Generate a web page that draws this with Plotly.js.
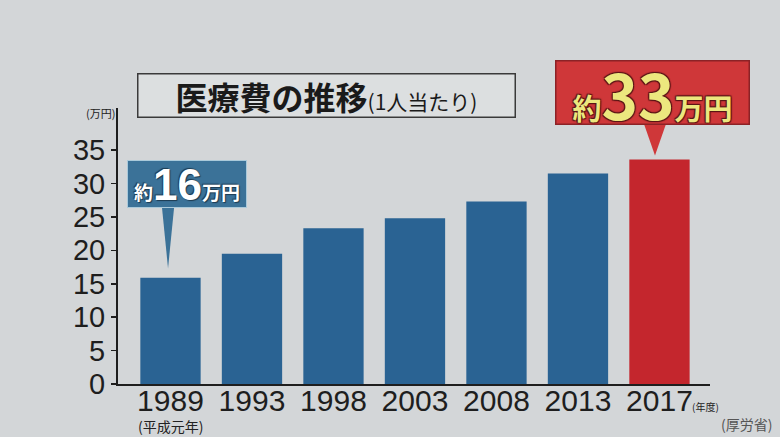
<!DOCTYPE html>
<html><head><meta charset="utf-8">
<script src="https://cdn.plot.ly/plotly-3.0.1.min.js"></script>
<style>html,body{margin:0;padding:0;background:#d3d6d8;}#chart{width:780px;height:437px;}</style>
</head><body><div id="chart"></div>
<script>
const years = ['1989','1993','1998','2003','2008','2013','2017'];
const costs = [15.9, 19.5, 23.3, 24.8, 27.3, 31.5, 33.6];
const barColors = ['#2a6393','#2a6393','#2a6393','#2a6393','#2a6393','#2a6393','#c4262d'];
const yTicks = [0,5,10,15,20,25,30,35];

const JP = 'Noto Sans CJK JP';
const NUM = 'Liberation Sans, Arial, sans-serif';

const first = 0, last = years.length - 1;

const trace = {
  type: 'bar', x: years, y: costs,
  marker: {color: barColors, line: {width: 0}},
  width: 0.74, hoverinfo: 'skip'
};

// callout pointer wedges tied to the data points (category index units on x)
function wedge(i, tipDx, tipGap, baseY, halfW, color) {
  const tipX = i + tipDx, tipY = costs[i] + tipGap;
  return {type: 'path', xref: 'x', yref: 'y', layer: 'above',
    path: `M ${tipX - halfW} ${baseY} L ${tipX + halfW} ${baseY} L ${tipX} ${tipY} Z`,
    fillcolor: color, line: {width: 0}};
}
const blueBoxBottom = costs[first] + 10.4;
const redBoxBottom = costs[last] + 5.1;

const layout = {
  width: 780, height: 437,
  margin: {l: 118, r: 70, t: 108, b: 53},
  paper_bgcolor: '#d3d6d8', plot_bgcolor: '#d3d6d8',
  showlegend: false,
  bargap: 0.26,
  xaxis: {
    type: 'category', range: [-0.644, 6.62],
    showline: true, linecolor: '#1e1e1e', linewidth: 2,
    ticks: '', showgrid: false, zeroline: false,
    ticklabelstandoff: -11,
    tickfont: {family: NUM, size: 30, color: '#1e1e1e'}
  },
  yaxis: {
    range: [0, 41.3], tickvals: yTicks,
    showline: true, linecolor: '#1e1e1e', linewidth: 2,
    ticks: 'outside', ticklen: 5, tickwidth: 1.5, tickcolor: '#1e1e1e',
    showgrid: false, zeroline: false,
    tickfont: {family: NUM, size: 29, color: '#1e1e1e'}
  },
  shapes: [
    wedge(first, -0.03, 1.4, blueBoxBottom + 0.2, 0.075, '#3b7298'),
    wedge(last, -0.055, 0.6, redBoxBottom + 0.2, 0.135, '#cf3739')
  ],
  annotations: [
    {xref: 'paper', yref: 'paper', x: 0.353, y: 1.047, xanchor: 'center', yanchor: 'middle',
     showarrow: false, width: 376, height: 42, borderpad: 0,
     bgcolor: '#dcdfe0', bordercolor: '#3a3a3a', borderwidth: 1.5,
     text: '<b>医療費の推移</b><span style="font-size:21px">(1人当たり)</span>',
     font: {family: JP, size: 32, color: '#1a1a1a'}},
    {xref: 'paper', yref: 'paper', x: 0, y: 1.0, xanchor: 'right', yanchor: 'middle', xshift: -1, yshift: -5,
     showarrow: false, text: '(万円)', font: {family: JP, size: 11, color: '#222'}},
    {xref: 'x', yref: 'y', x: first, y: blueBoxBottom, xanchor: 'center', yanchor: 'bottom',
     xshift: 16.5, showarrow: false, width: 118, height: 46, borderpad: 0,
     bgcolor: '#3b7298', bordercolor: '#a9c9da', borderwidth: 1,
     text: '約<span style="font-family:Liberation Sans;font-size:44px">16</span>万円',
     font: {family: JP, size: 19, color: '#ffffff', weight: 700,
            shadow: '1px 1px 1px #1c3a50, -1px -1px 1px #1c3a50'}},
    {xref: 'x', yref: 'y', x: last, y: redBoxBottom, xanchor: 'center', yanchor: 'bottom',
     xshift: -6.5, showarrow: false, width: 192, height: 62, borderpad: 0,
     bgcolor: '#cf3739', bordercolor: '#8c2226', borderwidth: 1.5,
     text: '約<span style="font-size:62px">33</span>万円',
     font: {family: JP, size: 29, color: '#ece77e', weight: 700,
            shadow: '1px 1px 1px #5a1515, -1px -1px 1px #5a1515, 1px -1px 1px #5a1515, -1px 1px 1px #5a1515'}},
    {xref: 'paper', yref: 'paper', x: 0.966, y: -0.08, xanchor: 'left', yanchor: 'middle',
     showarrow: false, text: '(年度)', font: {family: JP, size: 10, color: '#222'}},
    {xref: 'x', yref: 'paper', x: first, y: -0.153, xanchor: 'center', yanchor: 'middle',
     showarrow: false, text: '(平成元年)', font: {family: JP, size: 14, color: '#222'}},
    {xref: 'paper', yref: 'paper', x: 1.108, y: -0.145, xanchor: 'right', yanchor: 'middle',
     showarrow: false, text: '(厚労省)', font: {family: JP, size: 14, color: '#555'}}
  ]
};

Plotly.newPlot('chart', [trace], layout, {staticPlot: true, displayModeBar: false});
</script></body></html>
